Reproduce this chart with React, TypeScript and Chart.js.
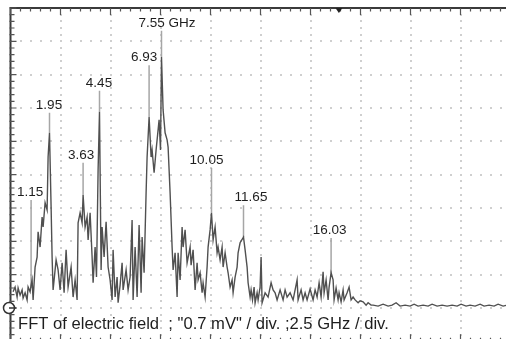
import { useEffect, useRef } from "react";
import { Chart, registerables } from "chart.js";

Chart.register(...registerables);

// ---- data (frequency in GHz, FFT magnitude in mV) ----
const freqGHz = [
  0.13, 0.23, 0.33, 0.38, 0.48, 0.58, 0.63, 0.73, 0.83, 0.88,
  0.98, 1.03, 1.08, 1.13, 1.23, 1.33, 1.38, 1.48, 1.58, 1.63,
  1.73, 1.83, 1.88, 1.95, 2.03, 2.08, 2.13, 2.28, 2.38, 2.48,
  2.58, 2.68, 2.78, 2.88, 3.03, 3.13, 3.23, 3.33, 3.38, 3.48,
  3.58, 3.63, 3.73, 3.83, 3.88, 3.98, 4.08, 4.13, 4.23, 4.30,
  4.38, 4.45, 4.53, 4.58, 4.68, 4.78, 4.88, 4.98, 5.08, 5.13,
  5.23, 5.33, 5.38, 5.48, 5.58, 5.63, 5.78, 5.88, 5.98, 6.08,
  6.13, 6.23, 6.33, 6.43, 6.53, 6.58, 6.68, 6.78, 6.83, 6.93,
  7.03, 7.08, 7.18, 7.28, 7.33, 7.43, 7.50, 7.55, 7.63, 7.73,
  7.83, 7.88, 7.98, 8.08, 8.13, 8.23, 8.33, 8.38, 8.48, 8.58,
  8.63, 8.73, 8.83, 8.98, 9.03, 9.13, 9.23, 9.33, 9.38, 9.48,
  9.58, 9.63, 9.73, 9.83, 9.88, 9.98, 10.05, 10.13, 10.23, 10.33,
  10.38, 10.48, 10.58, 10.63, 10.73, 10.83, 10.88, 10.98, 11.08, 11.13,
  11.23, 11.33, 11.38, 11.48, 11.65, 11.73, 11.83, 11.88, 11.98, 12.03,
  12.10, 12.18, 12.23, 12.33, 12.38, 12.48, 12.53, 12.58, 12.73, 12.88,
  13.03, 13.13, 13.23, 13.33, 13.48, 13.63, 13.73, 13.83, 13.98, 14.13,
  14.23, 14.33, 14.38, 14.53, 14.63, 14.73, 14.83, 14.98, 15.13, 15.23,
  15.33, 15.43, 15.53, 15.63, 15.68, 15.78, 15.88, 15.93, 16.03, 16.13,
  16.18, 16.28, 16.38, 16.43, 16.53, 16.63, 16.68, 16.83, 16.93, 17.03,
  17.13, 17.23, 17.38, 17.48, 17.63, 17.78, 17.88, 18.03, 18.13, 18.38,
  18.63, 18.88, 19.08, 19.28, 19.48, 19.73, 19.98, 20.18, 20.38, 20.63,
  20.88, 21.08, 21.33, 21.58, 21.83, 22.08, 22.33, 22.53, 22.78, 22.98,
  23.23, 23.48, 23.68, 23.93, 24.18, 24.38, 24.63, 24.83,
];

const ampMV = [
  0.34, 0.44, 0.23, 0.42, 0.27, 0.38, 0.21, 0.32, 0.17, 0.44,
  0.34, 0.48, 0.59, 0.17, 0.86, 1.07, 1.60, 1.28, 1.91, 1.70,
  2.21, 2.06, 3.17, 3.68, 2.12, 1.07, 0.38, 1.01, 0.80, 0.38,
  0.95, 0.32, 1.22, 0.44, 0.86, 0.23, 0.59, 0.17, 1.79, 2.00,
  1.79, 2.37, 1.70, 1.91, 1.43, 2.00, 1.07, 0.53, 1.28, 0.65,
  2.90, 4.12, 0.80, 1.70, 1.07, 1.81, 0.86, 0.59, 0.17, 1.22,
  0.23, 0.65, 0.11, 0.48, 0.95, 0.38, 0.80, 0.38, 0.65, 1.85,
  0.17, 1.28, 0.23, 1.74, 0.32, 1.49, 0.74, 2.42, 3.17, 4.01,
  3.17, 3.32, 2.84, 3.32, 3.53, 3.95, 3.32, 5.27, 4.16, 3.68,
  3.53, 3.38, 2.42, 1.28, 0.80, 1.16, 0.23, 1.16, 0.59, 1.70,
  1.28, 1.64, 0.95, 1.28, 0.90, 1.22, 0.38, 0.95, 0.59, 0.74,
  0.32, 0.53, 0.23, 0.86, 1.28, 1.64, 2.00, 1.43, 1.70, 1.16,
  1.28, 1.01, 1.28, 0.86, 1.16, 0.86, 0.74, 0.44, 0.59, 0.32,
  0.65, 0.86, 1.16, 1.37, 1.49, 1.22, 0.86, 0.53, 0.23, 0.38,
  0.17, 0.44, 0.11, 0.32, 0.17, 0.44, 1.07, 0.11, 0.32, 0.23,
  0.53, 0.38, 0.32, 0.17, 0.38, 0.17, 0.38, 0.23, 0.32, 0.17,
  0.38, 0.59, 0.17, 0.38, 0.17, 0.32, 0.17, 0.40, 0.17, 0.38,
  0.23, 0.53, 0.23, 0.76, 0.32, 0.59, 0.17, 0.44, 0.74, 0.59,
  0.17, 0.42, 0.17, 0.32, 0.13, 0.38, 0.17, 0.32, 0.44, 0.17,
  0.23, 0.17, 0.11, 0.15, 0.13, 0.06, 0.11, 0.06, 0.06, 0.04,
  0.08, 0.04, 0.06, 0.11, 0.04, 0.06, 0.04, 0.08, 0.04, 0.06,
  0.04, 0.08, 0.04, 0.06, 0.04, 0.06, 0.04, 0.08, 0.04, 0.06,
  0.04, 0.08, 0.04, 0.06, 0.04, 0.08, 0.04, 0.06,
];

// peak markers: position (GHz), label, where the marker line ends (trace) and starts (top), mV
const markerFreqs = [1.03, 1.95, 3.63, 4.45, 6.93, 7.55, 10.05, 11.65, 16.03];
const markerLabels = ["1.15", "1.95", "3.63", "4.45", "6.93", "7.55 GHz", "10.05", "11.65", "16.03"];
const markerPeaks = [0.42, 3.68, 2.37, 4.12, 4.01, 5.27, 2.0, 1.49, 0.74];
const markerTops = [2.27, 4.1, 3.05, 4.56, 5.1, 5.82, 2.94, 2.16, 1.47];

// scope settings
const MV_PER_DIV = 0.7;
const GHZ_PER_DIV = 2.5;
const X_DIVS = 10;
const Y_DIVS_ABOVE = 9;
const Y_DIVS_BELOW = 1;
const TRIGGER_MARK_GHZ = 16.42;
const caption = `FFT of electric field  ; "${MV_PER_DIV} mV" / div. ;${GHZ_PER_DIV} GHz / div.`;

// label styling (pixel nudges of the label text relative to its marker line)
const labelDx = [-1, -0.5, -2, -0.5, -5, 5.5, -5, 7.5, -1.5];

const FONT = '"Liberation Sans", Arial, Helvetica, sans-serif';

const scopePlugin = {
  id: "scope",
  beforeDatasetsDraw(chart: any) {
    const { ctx, chartArea: a, scales } = chart;
    const xs = scales.x;
    const ys = scales.y;
    const divW = (a.right - a.left) / X_DIVS;
    const nY = Y_DIVS_ABOVE + Y_DIVS_BELOW;
    const divH = (a.bottom - a.top) / nY;
    ctx.save();
    // dotted graticule
    ctx.fillStyle = "#cfcfcf";
    for (let i = 1; i < X_DIVS; i++) {
      const gx = xs.getPixelForValue(i * GHZ_PER_DIV);
      for (let j = 0; j <= nY * 5; j++) {
        const gy = a.top + (j * divH) / 5;
        ctx.fillRect(Math.round(gx) - 1, Math.round(gy) - 1, 2, 2);
      }
    }
    for (let k = -Y_DIVS_BELOW + 1; k < Y_DIVS_ABOVE; k++) {
      const gy = ys.getPixelForValue(k * MV_PER_DIV);
      for (let i = 0; i <= X_DIVS * 5; i++) {
        const gx = a.left + (i * divW) / 5;
        ctx.fillRect(Math.round(gx) - 1, Math.round(gy) - 1, 2, 2);
      }
    }
    // frame
    ctx.strokeStyle = "#3a3a3a";
    ctx.lineWidth = 2;
    ctx.strokeRect(a.left, a.top, a.right - a.left, a.bottom - a.top);
    // ticks
    ctx.lineWidth = 1.2;
    ctx.strokeStyle = "#555";
    ctx.beginPath();
    for (let i = 0; i <= X_DIVS * 5; i++) {
      const tx = a.left + (i * divW) / 5;
      const len = i % 5 === 0 ? 7 : 3.5;
      ctx.moveTo(tx, a.top);
      ctx.lineTo(tx, a.top + len);
      ctx.moveTo(tx, a.bottom);
      ctx.lineTo(tx, a.bottom - len);
    }
    for (let j = 0; j <= nY * 5; j++) {
      const ty = a.top + (j * divH) / 5;
      const len = j % 5 === 0 ? 6 : 4;
      ctx.moveTo(a.left - 1, ty);
      ctx.lineTo(a.left + len, ty);
    }
    ctx.stroke();
    // marker lines
    ctx.strokeStyle = "#a6a6a6";
    ctx.lineWidth = 1.5;
    ctx.beginPath();
    markerFreqs.forEach((f, i) => {
      const mx = xs.getPixelForValue(f);
      ctx.moveTo(mx, ys.getPixelForValue(markerTops[i]));
      ctx.lineTo(mx, ys.getPixelForValue(markerPeaks[i]));
    });
    ctx.stroke();
    ctx.restore();
  },
  afterDatasetsDraw(chart: any) {
    const { ctx, chartArea: a, scales } = chart;
    const xs = scales.x;
    const ys = scales.y;
    ctx.save();
    // peak labels
    ctx.fillStyle = "#1e1e1e";
    ctx.font = `13.5px ${FONT}`;
    ctx.textAlign = "center";
    ctx.textBaseline = "alphabetic";
    markerFreqs.forEach((f, i) => {
      const mx = xs.getPixelForValue(f) + labelDx[i];
      const my = ys.getPixelForValue(markerTops[i]) - 4;
      ctx.fillText(markerLabels[i], mx, my);
    });
    // caption
    ctx.font = `16.6px ${FONT}`;
    ctx.textAlign = "left";
    const y0 = ys.getPixelForValue(0);
    ctx.fillText(caption, a.left + 7.5, y0 + 21);
    // ground reference marker
    ctx.fillStyle = "#fff";
    ctx.strokeStyle = "#333";
    ctx.lineWidth = 1.5;
    ctx.beginPath();
    ctx.arc(a.left - 1.5, y0, 5.5, 0, Math.PI * 2);
    ctx.fill();
    ctx.stroke();
    ctx.beginPath();
    ctx.moveTo(a.left - 1.5, y0);
    ctx.lineTo(a.left + 6, y0);
    ctx.stroke();
    // trigger marker
    const tx = xs.getPixelForValue(TRIGGER_MARK_GHZ);
    ctx.fillStyle = "#222";
    ctx.beginPath();
    ctx.moveTo(tx - 3.5, a.top);
    ctx.lineTo(tx + 3.5, a.top);
    ctx.lineTo(tx, a.top + 5);
    ctx.closePath();
    ctx.fill();
    ctx.restore();
  },
};

export default function App() {
  const ref = useRef<HTMLCanvasElement | null>(null);
  useEffect(() => {
    if (!ref.current) return;
    const chart = new Chart(ref.current, {
      type: "line",
      data: {
        datasets: [
          {
            data: freqGHz.map((f, i) => ({ x: f, y: ampMV[i] })),
            borderColor: "#505050",
            borderWidth: 1.4,
            pointRadius: 0,
            tension: 0,
            fill: false,
          },
        ],
      },
      options: {
        responsive: false,
        animation: false,
        devicePixelRatio: 1,
        layout: { padding: { left: 10.5, top: 8, right: 13.5, bottom: 10.67 } },
        plugins: { legend: { display: false }, tooltip: { enabled: false } },
        scales: {
          x: { type: "linear", min: 0, max: X_DIVS * GHZ_PER_DIV, display: false },
          y: { min: -Y_DIVS_BELOW * MV_PER_DIV, max: Y_DIVS_ABOVE * MV_PER_DIV, display: false },
        },
      },
      plugins: [scopePlugin],
    } as any);
    return () => chart.destroy();
  }, []);
  return (
    <div
      style={{
        position: "fixed",
        left: 0,
        top: 0,
        width: 506,
        height: 339,
        overflow: "hidden",
        background: "#fff",
      }}
    >
      <canvas ref={ref} width={524} height={352} style={{ width: 524, height: 352, display: "block" }} />
    </div>
  );
}
